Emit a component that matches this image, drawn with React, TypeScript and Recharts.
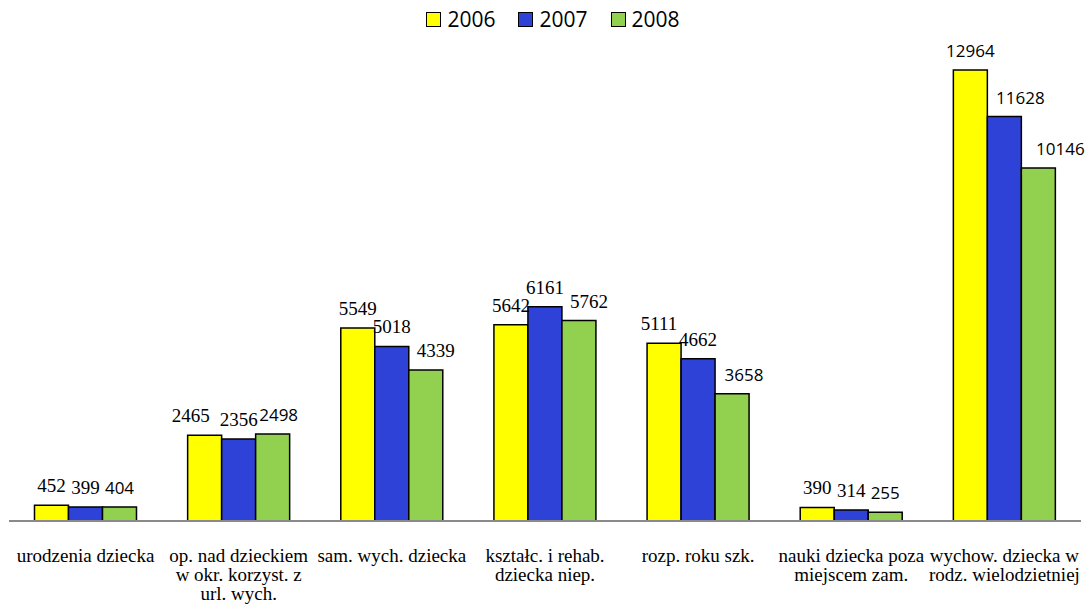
import { Bar, BarChart, LabelList, Legend, XAxis, YAxis } from "recharts"

const categories = [
  "urodzenia dziecka",
  "op. nad dzieckiem\nw okr. korzyst. z\nurl. wych.",
  "sam. wych. dziecka",
  "kształc. i rehab.\ndziecka niep.",
  "rozp. roku szk.",
  "nauki dziecka poza\nmiejscem zam.",
  "wychow. dziecka w\nrodz. wielodzietniej",
]
const values2006 = [452, 2465, 5549, 5642, 5111, 390, 12964]
const values2007 = [399, 2356, 5018, 6161, 4662, 314, 11628]
const values2008 = [404, 2498, 4339, 5762, 3658, 255, 10146]

const series = [
  { key: "2006", color: "#FFFF00" },
  { key: "2007", color: "#2F42D8" },
  { key: "2008", color: "#92D050" },
]

const rows = categories.map((name, i) => ({
  name,
  "2006": values2006[i],
  "2007": values2007[i],
  "2008": values2008[i],
}))

const SERIF = "'Liberation Serif', 'Times New Roman', serif"
const SANS = "'Open Sans', 'Liberation Sans', sans-serif"

// horizontal nudges of the value labels, per series, per category
const labelShift: Record<string, number[]> = {
  "2006": [0, -14, 0, 0, -5, 0, 0],
  "2007": [0, 0, 0, 0, 0, 0, 16],
  "2008": [0, 6, 10, 10, 12, 0, 22],
}

function makeLabel(key: string) {
  return (props: any) => {
    const { x, y, width, value, index } = props
    const sans = index === 6 || (key === "2008" && index !== 2 && index !== 3)
    return (
      <text
        x={x + width / 2 + (labelShift[key][index] ?? 0)}
        y={y - 13}
        textAnchor="middle"
        fill="#000"
        style={{ fontFamily: sans ? SANS : SERIF, fontSize: sans ? 17 : 19 }}
      >
        {value}
      </text>
    )
  }
}

function CategoryTick({ x, y, payload }: any) {
  const lines = String(payload.value).split("\n")
  return (
    <text x={x} y={y} textAnchor="middle" fill="#000" style={{ fontFamily: SERIF, fontSize: 19 }}>
      {lines.map((line, i) => (
        <tspan key={i} x={x} y={y + 33 + i * 19}>
          {line}
        </tspan>
      ))}
    </text>
  )
}

function LegendContent() {
  return (
    <div
      style={{
        display: "flex",
        justifyContent: "center",
        gap: 23,
        paddingLeft: 18,
        fontFamily: SANS,
        fontSize: 21,
      }}
    >
      {series.map((s) => (
        <div key={s.key} style={{ display: "flex", alignItems: "center" }}>
          <span
            style={{
              width: 13,
              height: 13,
              background: s.color,
              border: "1px solid #000",
              marginRight: 6,
              display: "inline-block",
            }}
          />
          <span style={{ lineHeight: "24px" }}>{s.key}</span>
        </div>
      ))}
    </div>
  )
}

export default function App() {
  return (
    <div style={{ position: "absolute", left: 0, top: 0, background: "#fff" }}>
      <BarChart
        width={1088}
        height={604}
        data={rows}
        margin={{ top: 10, right: 7, left: 9, bottom: 13 }}
        barCategoryGap="16.65%"
        barGap={0}
      >
        <XAxis
          dataKey="name"
          height={70}
          interval={0}
          tickLine={false}
          axisLine={{ stroke: "#8a8a8a", strokeWidth: 2 }}
          tick={<CategoryTick />}
        />
        <YAxis hide domain={[0, 14000]} />
        <Legend
          layout="vertical"
          align="center"
          verticalAlign="top"
          wrapperStyle={{ top: 7, left: 0, width: 1088 }}
          content={<LegendContent />}
        />
        {series.map((s) => (
          <Bar
            key={s.key}
            dataKey={s.key}
            fill={s.color}
            stroke="#000"
            strokeWidth={1.5}
            isAnimationActive={false}
          >
            <LabelList dataKey={s.key} content={makeLabel(s.key)} />
          </Bar>
        ))}
      </BarChart>
    </div>
  )
}
